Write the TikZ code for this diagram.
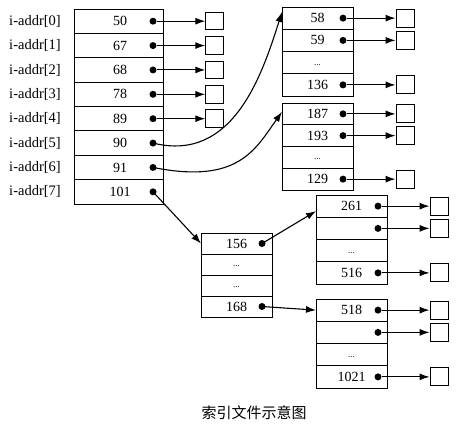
\documentclass[tikz,border=0pt]{standalone}
\usepackage{fontspec}
\setmainfont{Liberation Serif}
\newfontfamily\cjk{Noto Sans CJK SC}
\usetikzlibrary{arrows.meta}
\begin{document}
\begin{tikzpicture}[x=1pt,y=-1pt,
  cell/.style={draw,line width=1pt,inner sep=0pt,outer sep=0pt,minimum width=71pt},
  val/.style={font=\fontsize{14}{16}\selectfont,inner sep=0pt},
  ell/.style={font=\fontsize{9}{10}\selectfont,inner sep=0pt},
  lab/.style={font=\fontsize{14.5}{16}\selectfont,inner sep=0pt},
  dotn/.style={circle,fill,inner sep=0pt,minimum size=7pt},
  leaf/.style={draw,line width=1pt,inner sep=0pt,minimum size=18pt},
  arr/.style={line width=1.1pt,-{Latex[length=10pt,width=7pt]}}]
\useasboundingbox (0,0) rectangle (468,429);
% main table
\foreach \v [count=\j from 0] in {50,67,68,78,89,90,91,101} {
  \node[cell,minimum width=89pt,minimum height=24.375pt] (m\j) at (118.5,{9+24.375*(\j+0.5)}) {};
  \node[val] at ([xshift=1.5pt]m\j.center) {\v};
  \node[dotn] (md\j) at (153,{9+24.375*(\j+0.5)}) {};
  \node[lab] at (35,{9+24.375*(\j+0.5)}) {i-addr[\j]};
}
\foreach \j in {0,...,4} {
  \node[leaf,minimum size=17.5pt] (mb\j) at (214.5,{9+24.375*(\j+0.5)}) {};
  \draw[arr] (md\j) -- (mb\j);
}
% table 1
\foreach \v [count=\j from 0] in {58,59,,136} {
  \node[cell,minimum height=22.25pt] (a\j) at (317.5,{7+22.25*(\j+0.5)}) {};
  \node[val] at (a\j.center) {\v};
}
\node[ell] at ([yshift=-2pt]a2.center) {...};
\foreach \j in {0,1,3} {
  \node[dotn] (ad\j) at (343,{7+22.25*(\j+0.5)}) {};
  \node[leaf] (ab\j) at (405,{7+22.25*(\j+0.5)}) {};
  \draw[arr] (ad\j) -- (ab\j);
}
% table 2
\foreach \v [count=\j from 0] in {187,193,,129} {
  \node[cell,minimum height=21.75pt] (b\j) at (317.5,{103+21.75*(\j+0.5)}) {};
  \node[val] at (b\j.center) {\v};
}
\node[ell] at ([yshift=-2pt]b2.center) {...};
\foreach \j in {0,1,3} {
  \node[dotn] (bd\j) at (343,{103+21.75*(\j+0.5)}) {};
  \node[leaf] (bb\j) at (405,{103+21.75*(\j+0.5)}) {};
  \draw[arr] (bd\j) -- (bb\j);
}
% table 3 (156)
\foreach \v [count=\j from 0] in {156,,,168} {
  \node[cell,minimum height=21pt] (c\j) at (236.5,{233+21*(\j+0.5)}) {};
  \node[val] at (c\j.center) {\v};
}
\node[ell] at ([yshift=-2pt]c1.center) {...};
\node[ell] at ([yshift=-2pt]c2.center) {...};
\node[dotn] (cd0) at (262,{233+21*0.5}) {};
\node[dotn] (cd3) at (262,{233+21*3.5}) {};
% table 4 (261)
\foreach \v [count=\j from 0] in {261,,,516} {
  \node[cell,minimum height=22.25pt] (d\j) at (351.5,{195+22.25*(\j+0.5)}) {};
  \node[val] at (d\j.center) {\v};
}
\node[ell] at ([yshift=-2pt]d2.center) {...};
\foreach \j in {0,1,3} {
  \node[dotn] (dd\j) at (378,{195+22.25*(\j+0.5)}) {};
  \node[leaf] (db\j) at (439,{195+22.25*(\j+0.5)}) {};
  \draw[arr] (dd\j) -- (db\j);
}
% table 5 (518)
\foreach \v [count=\j from 0] in {518,,,1021} {
  \node[cell,minimum height=22.25pt] (e\j) at (351.5,{299+22.25*(\j+0.5)}) {};
  \node[val] at (e\j.center) {\v};
}
\node[ell] at ([yshift=-2pt]e2.center) {...};
\foreach \j in {0,1,3} {
  \node[dotn] (ed\j) at (378,{299+22.25*(\j+0.5)}) {};
  \node[leaf] (eb\j) at (439,{299+22.25*(\j+0.5)}) {};
  \draw[arr] (ed\j) -- (eb\j);
}
% connections
\draw[arr] (md5.center) .. controls +(80,20) and +(-20,63) .. ([yshift=-5pt]a0.north west);
\draw[arr] (md6.center) .. controls +(85,17) and +(-27,38) .. ([yshift=2pt]b0.west);
\draw[arr] (md7.center) -- (c0.west);
\draw[arr] (cd0.center) -- ([yshift=-5pt]d0.west);
\draw[arr] (cd3.center) -- (e0.west);
% caption
\node[font=\cjk\fontsize{15}{16}\selectfont,inner sep=0pt] (cap) at (254,413) {索引文件示意图};
\end{tikzpicture}
\end{document}
